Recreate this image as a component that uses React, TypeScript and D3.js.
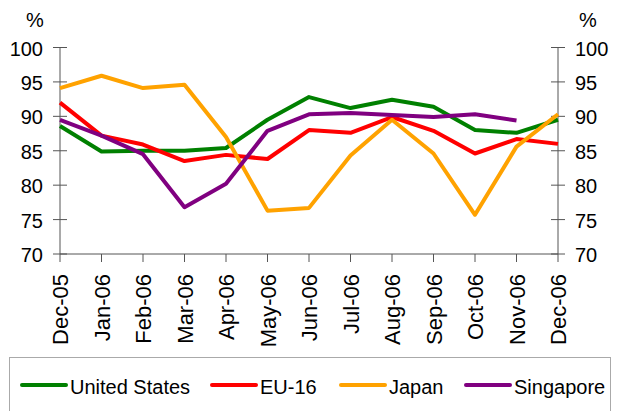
import React from 'react';
import * as d3 from 'd3';

const months = ['Dec-05', 'Jan-06', 'Feb-06', 'Mar-06', 'Apr-06', 'May-06', 'Jun-06', 'Jul-06', 'Aug-06', 'Sep-06', 'Oct-06', 'Nov-06', 'Dec-06'];
const yTicks = [70, 75, 80, 85, 90, 95, 100];

const unitedStates = [88.6, 84.9, 85.0, 85.0, 85.4, 89.5, 92.8, 91.2, 92.4, 91.4, 88.0, 87.6, 89.5];
const eu16 = [92.0, 87.2, 85.9, 83.5, 84.4, 83.8, 88.0, 87.6, 89.9, 87.9, 84.6, 86.7, 86.0];
const japan = [94.1, 95.9, 94.1, 94.6, 87.0, 76.3, 76.7, 84.3, 89.5, 84.6, 75.7, 85.6, 90.3];
const singapore = [89.5, 87.2, 84.5, 76.8, 80.2, 87.9, 90.3, 90.5, 90.2, 89.9, 90.3, 89.4, null];

const seriesNames = ['United States', 'EU-16', 'Japan', 'Singapore'];
const seriesColors = ['#008000', '#ff0000', '#ffa200', '#800080'];
const seriesValues = [unitedStates, eu16, japan, singapore];

const W = 622;
const H = 411;
const font = '"Liberation Sans", Arial, sans-serif';
const axisColor = '#555';

export default function App() {
  const x = d3.scalePoint<string>().domain(months).range([60, 558]);
  const y = d3.scaleLinear().domain([70, 100]).range([254, 47.5]);

  const line = d3.line<number | null>()
    .defined((d) => d !== null)
    .x((_, i) => x(months[i]) as number)
    .y((d) => y(d as number));

  const legendX = [22, 212, 341, 466];

  return (
    <svg width={W} height={H} style={{ position: 'absolute', left: 0, top: 0, background: '#fff' }} fontFamily={font}>
      <text x={35} y={27} fontSize={20} textAnchor="middle">%</text>
      <text x={588} y={27} fontSize={20} textAnchor="middle">%</text>

      {/* left axis */}
      <line x1={60} x2={60} y1={y(100)} y2={y(70)} stroke={axisColor} />
      {yTicks.map((t) => (
        <g key={'l' + t}>
          <line x1={53} x2={67} y1={y(t)} y2={y(t)} stroke={axisColor} />
          <text x={43} y={y(t) + 8} fontSize={20} textAnchor="end">{t}</text>
        </g>
      ))}

      {/* right axis */}
      <line x1={558} x2={558} y1={y(100)} y2={y(70)} stroke={axisColor} />
      {yTicks.map((t) => (
        <g key={'r' + t}>
          <line x1={551} x2={565} y1={y(t)} y2={y(t)} stroke={axisColor} />
          <text x={575} y={y(t) + 8} fontSize={20}>{t}</text>
        </g>
      ))}

      {/* x axis */}
      <line x1={60} x2={558} y1={y(70)} y2={y(70)} stroke={axisColor} />
      {months.map((m) => (
        <g key={m}>
          <line x1={x(m)} x2={x(m)} y1={y(70)} y2={y(70) + 8} stroke={axisColor} />
          <text
            transform={`translate(${(x(m) as number) + 8},${y(70) + 20}) rotate(-90)`}
            fontSize={22}
            textAnchor="end"
          >{m}</text>
        </g>
      ))}

      {/* lines */}
      {seriesValues.map((vals, i) => (
        <path
          key={seriesNames[i]}
          d={line(vals) as string}
          fill="none"
          stroke={seriesColors[i]}
          strokeWidth={4}
          strokeLinejoin="round"
        />
      ))}

      {/* legend */}
      <rect x={9.5} y={357.5} width={601} height={70} fill="none" stroke="#aaa" />
      {seriesNames.map((name, i) => (
        <g key={name} transform={`translate(${legendX[i]},385)`}>
          <line x1={0} x2={44} y1={0} y2={0} stroke={seriesColors[i]} strokeWidth={4} strokeLinecap="round" />
          <text x={48} y={9} fontSize={20}>{name}</text>
        </g>
      ))}
    </svg>
  );
}
